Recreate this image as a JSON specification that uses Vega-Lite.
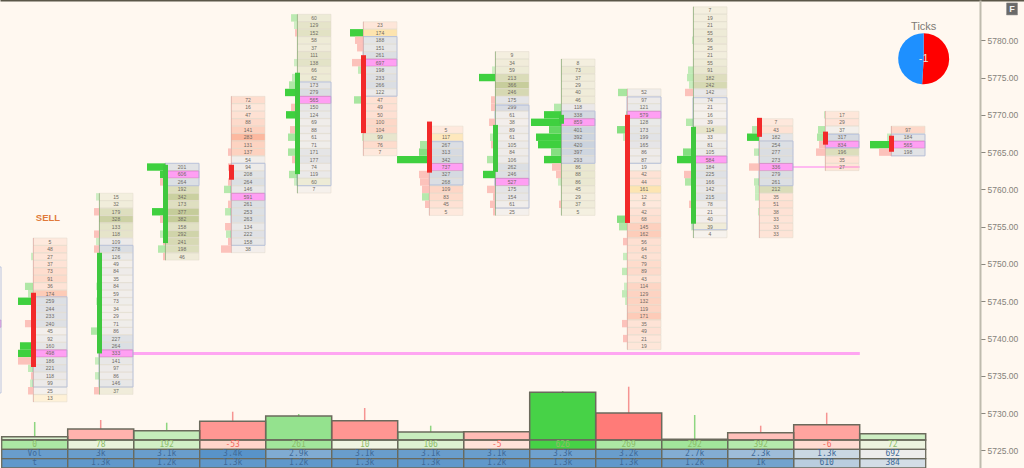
{"$schema":"https://vega.github.io/schema/vega-lite/v6.json","width":1024,"height":468,"autosize":"none","padding":0,"background":"#fff8f0","config":{"view":{"stroke":null}},
"datasets":{
"cells":[{"b":-1,"p":5742,"v":500,"z":"p"},
{"b":0,"p":5753,"v":5,"z":"r"},{"b":0,"p":5752,"v":48,"z":"r"},{"b":0,"p":5751,"v":27,"z":"r"},{"b":0,"p":5750,"v":37,"z":"r"},{"b":0,"p":5749,"v":73,"z":"r"},{"b":0,"p":5748,"v":91,"z":"r"},{"b":0,"p":5747,"v":36,"z":"r"},{"b":0,"p":5746,"v":174,"z":"r"},{"b":0,"p":5745,"v":259,"z":"n"},{"b":0,"p":5744,"v":244,"z":"n"},{"b":0,"p":5743,"v":233,"z":"n"},{"b":0,"p":5742,"v":240,"z":"n"},{"b":0,"p":5741,"v":45,"z":"n"},{"b":0,"p":5740,"v":92,"z":"n"},{"b":0,"p":5739,"v":160,"z":"n"},{"b":0,"p":5738,"v":498,"z":"p"},{"b":0,"p":5737,"v":186,"z":"n"},{"b":0,"p":5736,"v":221,"z":"n"},{"b":0,"p":5735,"v":118,"z":"n"},{"b":0,"p":5734,"v":99,"z":"n"},{"b":0,"p":5733,"v":25,"z":"n"},{"b":0,"p":5732,"v":13,"z":"y"},
{"b":1,"p":5759,"v":15,"z":"g"},{"b":1,"p":5758,"v":32,"z":"g"},{"b":1,"p":5757,"v":179,"z":"g"},{"b":1,"p":5756,"v":328,"z":"g"},{"b":1,"p":5755,"v":133,"z":"g"},{"b":1,"p":5754,"v":118,"z":"g"},{"b":1,"p":5753,"v":109,"z":"n"},{"b":1,"p":5752,"v":278,"z":"n"},{"b":1,"p":5751,"v":126,"z":"n"},{"b":1,"p":5750,"v":49,"z":"n"},{"b":1,"p":5749,"v":84,"z":"n"},{"b":1,"p":5748,"v":35,"z":"n"},{"b":1,"p":5747,"v":84,"z":"n"},{"b":1,"p":5746,"v":59,"z":"n"},{"b":1,"p":5745,"v":73,"z":"n"},{"b":1,"p":5744,"v":34,"z":"n"},{"b":1,"p":5743,"v":29,"z":"n"},{"b":1,"p":5742,"v":71,"z":"n"},{"b":1,"p":5741,"v":86,"z":"n"},{"b":1,"p":5740,"v":227,"z":"n"},{"b":1,"p":5739,"v":264,"z":"n"},{"b":1,"p":5738,"v":333,"z":"p"},{"b":1,"p":5737,"v":141,"z":"n"},{"b":1,"p":5736,"v":97,"z":"n"},{"b":1,"p":5735,"v":86,"z":"n"},{"b":1,"p":5734,"v":146,"z":"n"},{"b":1,"p":5733,"v":37,"z":"g"},
{"b":2,"p":5763,"v":201,"z":"n"},{"b":2,"p":5762,"v":606,"z":"p"},{"b":2,"p":5761,"v":264,"z":"n"},{"b":2,"p":5760,"v":192,"z":"g"},{"b":2,"p":5759,"v":342,"z":"g"},{"b":2,"p":5758,"v":173,"z":"g"},{"b":2,"p":5757,"v":377,"z":"g"},{"b":2,"p":5756,"v":382,"z":"g"},{"b":2,"p":5755,"v":158,"z":"g"},{"b":2,"p":5754,"v":292,"z":"g"},{"b":2,"p":5753,"v":241,"z":"g"},{"b":2,"p":5752,"v":198,"z":"g"},{"b":2,"p":5751,"v":46,"z":"g"},
{"b":3,"p":5772,"v":72,"z":"r"},{"b":3,"p":5771,"v":16,"z":"r"},{"b":3,"p":5770,"v":47,"z":"r"},{"b":3,"p":5769,"v":88,"z":"r"},{"b":3,"p":5768,"v":141,"z":"r"},{"b":3,"p":5767,"v":283,"z":"r"},{"b":3,"p":5766,"v":131,"z":"r"},{"b":3,"p":5765,"v":137,"z":"r"},{"b":3,"p":5764,"v":54,"z":"n"},{"b":3,"p":5763,"v":94,"z":"n"},{"b":3,"p":5762,"v":208,"z":"n"},{"b":3,"p":5761,"v":264,"z":"n"},{"b":3,"p":5760,"v":146,"z":"n"},{"b":3,"p":5759,"v":591,"z":"p"},{"b":3,"p":5758,"v":261,"z":"n"},{"b":3,"p":5757,"v":253,"z":"n"},{"b":3,"p":5756,"v":263,"z":"n"},{"b":3,"p":5755,"v":134,"z":"n"},{"b":3,"p":5754,"v":222,"z":"n"},{"b":3,"p":5753,"v":158,"z":"n"},{"b":3,"p":5752,"v":38,"z":"n"},
{"b":4,"p":5783,"v":60,"z":"g"},{"b":4,"p":5782,"v":129,"z":"g"},{"b":4,"p":5781,"v":152,"z":"g"},{"b":4,"p":5780,"v":58,"z":"g"},{"b":4,"p":5779,"v":37,"z":"g"},{"b":4,"p":5778,"v":111,"z":"g"},{"b":4,"p":5777,"v":138,"z":"g"},{"b":4,"p":5776,"v":66,"z":"g"},{"b":4,"p":5775,"v":62,"z":"g"},{"b":4,"p":5774,"v":173,"z":"n"},{"b":4,"p":5773,"v":279,"z":"n"},{"b":4,"p":5772,"v":565,"z":"p"},{"b":4,"p":5771,"v":150,"z":"n"},{"b":4,"p":5770,"v":124,"z":"n"},{"b":4,"p":5769,"v":69,"z":"n"},{"b":4,"p":5768,"v":88,"z":"n"},{"b":4,"p":5767,"v":61,"z":"n"},{"b":4,"p":5766,"v":71,"z":"n"},{"b":4,"p":5765,"v":171,"z":"n"},{"b":4,"p":5764,"v":177,"z":"n"},{"b":4,"p":5763,"v":74,"z":"n"},{"b":4,"p":5762,"v":119,"z":"n"},{"b":4,"p":5761,"v":60,"z":"g"},{"b":4,"p":5760,"v":7,"z":"n"},
{"b":5,"p":5782,"v":23,"z":"r"},{"b":5,"p":5781,"v":174,"z":"y"},{"b":5,"p":5780,"v":188,"z":"n"},{"b":5,"p":5779,"v":151,"z":"n"},{"b":5,"p":5778,"v":261,"z":"n"},{"b":5,"p":5777,"v":697,"z":"p"},{"b":5,"p":5776,"v":198,"z":"n"},{"b":5,"p":5775,"v":233,"z":"n"},{"b":5,"p":5774,"v":266,"z":"n"},{"b":5,"p":5773,"v":122,"z":"n"},{"b":5,"p":5772,"v":47,"z":"r"},{"b":5,"p":5771,"v":49,"z":"r"},{"b":5,"p":5770,"v":50,"z":"r"},{"b":5,"p":5769,"v":100,"z":"r"},{"b":5,"p":5768,"v":104,"z":"r"},{"b":5,"p":5767,"v":99,"z":"g"},{"b":5,"p":5766,"v":76,"z":"r"},{"b":5,"p":5765,"v":7,"z":"r"},
{"b":6,"p":5768,"v":5,"z":"r"},{"b":6,"p":5767,"v":117,"z":"y"},{"b":6,"p":5766,"v":267,"z":"n"},{"b":6,"p":5765,"v":313,"z":"n"},{"b":6,"p":5764,"v":342,"z":"n"},{"b":6,"p":5763,"v":737,"z":"p"},{"b":6,"p":5762,"v":327,"z":"n"},{"b":6,"p":5761,"v":268,"z":"n"},{"b":6,"p":5760,"v":109,"z":"r"},{"b":6,"p":5759,"v":83,"z":"r"},{"b":6,"p":5758,"v":45,"z":"r"},{"b":6,"p":5757,"v":5,"z":"r"},
{"b":7,"p":5778,"v":9,"z":"g"},{"b":7,"p":5777,"v":34,"z":"g"},{"b":7,"p":5776,"v":59,"z":"g"},{"b":7,"p":5775,"v":213,"z":"g"},{"b":7,"p":5774,"v":366,"z":"g"},{"b":7,"p":5773,"v":246,"z":"g"},{"b":7,"p":5772,"v":175,"z":"n"},{"b":7,"p":5771,"v":299,"z":"n"},{"b":7,"p":5770,"v":61,"z":"n"},{"b":7,"p":5769,"v":38,"z":"n"},{"b":7,"p":5768,"v":89,"z":"n"},{"b":7,"p":5767,"v":61,"z":"n"},{"b":7,"p":5766,"v":105,"z":"n"},{"b":7,"p":5765,"v":84,"z":"n"},{"b":7,"p":5764,"v":106,"z":"n"},{"b":7,"p":5763,"v":262,"z":"n"},{"b":7,"p":5762,"v":246,"z":"n"},{"b":7,"p":5761,"v":527,"z":"p"},{"b":7,"p":5760,"v":175,"z":"n"},{"b":7,"p":5759,"v":154,"z":"n"},{"b":7,"p":5758,"v":61,"z":"n"},{"b":7,"p":5757,"v":25,"z":"n"},
{"b":8,"p":5777,"v":8,"z":"g"},{"b":8,"p":5776,"v":73,"z":"g"},{"b":8,"p":5775,"v":37,"z":"g"},{"b":8,"p":5774,"v":29,"z":"g"},{"b":8,"p":5773,"v":40,"z":"g"},{"b":8,"p":5772,"v":46,"z":"g"},{"b":8,"p":5771,"v":118,"z":"n"},{"b":8,"p":5770,"v":338,"z":"n"},{"b":8,"p":5769,"v":859,"z":"p"},{"b":8,"p":5768,"v":401,"z":"n"},{"b":8,"p":5767,"v":392,"z":"n"},{"b":8,"p":5766,"v":420,"z":"n"},{"b":8,"p":5765,"v":397,"z":"n"},{"b":8,"p":5764,"v":293,"z":"n"},{"b":8,"p":5763,"v":86,"z":"g"},{"b":8,"p":5762,"v":88,"z":"g"},{"b":8,"p":5761,"v":86,"z":"g"},{"b":8,"p":5760,"v":45,"z":"g"},{"b":8,"p":5759,"v":29,"z":"g"},{"b":8,"p":5758,"v":37,"z":"g"},{"b":8,"p":5757,"v":5,"z":"g"},
{"b":9,"p":5773,"v":52,"z":"n"},{"b":9,"p":5772,"v":97,"z":"n"},{"b":9,"p":5771,"v":121,"z":"n"},{"b":9,"p":5770,"v":579,"z":"p"},{"b":9,"p":5769,"v":128,"z":"n"},{"b":9,"p":5768,"v":173,"z":"n"},{"b":9,"p":5767,"v":199,"z":"n"},{"b":9,"p":5766,"v":165,"z":"n"},{"b":9,"p":5765,"v":86,"z":"n"},{"b":9,"p":5764,"v":87,"z":"n"},{"b":9,"p":5763,"v":19,"z":"n"},{"b":9,"p":5762,"v":42,"z":"r"},{"b":9,"p":5761,"v":44,"z":"r"},{"b":9,"p":5760,"v":161,"z":"y"},{"b":9,"p":5759,"v":12,"z":"r"},{"b":9,"p":5758,"v":8,"z":"r"},{"b":9,"p":5757,"v":42,"z":"r"},{"b":9,"p":5756,"v":68,"z":"r"},{"b":9,"p":5755,"v":145,"z":"r"},{"b":9,"p":5754,"v":162,"z":"r"},{"b":9,"p":5753,"v":56,"z":"r"},{"b":9,"p":5752,"v":64,"z":"r"},{"b":9,"p":5751,"v":43,"z":"r"},{"b":9,"p":5750,"v":79,"z":"r"},{"b":9,"p":5749,"v":89,"z":"r"},{"b":9,"p":5748,"v":43,"z":"r"},{"b":9,"p":5747,"v":114,"z":"r"},{"b":9,"p":5746,"v":129,"z":"r"},{"b":9,"p":5745,"v":132,"z":"r"},{"b":9,"p":5744,"v":119,"z":"r"},{"b":9,"p":5743,"v":171,"z":"r"},{"b":9,"p":5742,"v":35,"z":"r"},{"b":9,"p":5741,"v":49,"z":"r"},{"b":9,"p":5740,"v":21,"z":"r"},{"b":9,"p":5739,"v":19,"z":"r"},
{"b":10,"p":5784,"v":7,"z":"g"},{"b":10,"p":5783,"v":19,"z":"g"},{"b":10,"p":5782,"v":21,"z":"g"},{"b":10,"p":5781,"v":55,"z":"g"},{"b":10,"p":5780,"v":56,"z":"g"},{"b":10,"p":5779,"v":25,"z":"g"},{"b":10,"p":5778,"v":21,"z":"g"},{"b":10,"p":5777,"v":55,"z":"g"},{"b":10,"p":5776,"v":91,"z":"g"},{"b":10,"p":5775,"v":182,"z":"g"},{"b":10,"p":5774,"v":242,"z":"g"},{"b":10,"p":5773,"v":142,"z":"n"},{"b":10,"p":5772,"v":74,"z":"n"},{"b":10,"p":5771,"v":21,"z":"n"},{"b":10,"p":5770,"v":16,"z":"n"},{"b":10,"p":5769,"v":39,"z":"n"},{"b":10,"p":5768,"v":114,"z":"g"},{"b":10,"p":5767,"v":33,"z":"n"},{"b":10,"p":5766,"v":81,"z":"n"},{"b":10,"p":5765,"v":105,"z":"n"},{"b":10,"p":5764,"v":584,"z":"p"},{"b":10,"p":5763,"v":184,"z":"n"},{"b":10,"p":5762,"v":225,"z":"n"},{"b":10,"p":5761,"v":166,"z":"n"},{"b":10,"p":5760,"v":142,"z":"n"},{"b":10,"p":5759,"v":215,"z":"n"},{"b":10,"p":5758,"v":78,"z":"n"},{"b":10,"p":5757,"v":21,"z":"n"},{"b":10,"p":5756,"v":40,"z":"n"},{"b":10,"p":5755,"v":39,"z":"g"},{"b":10,"p":5754,"v":4,"z":"n"},
{"b":11,"p":5769,"v":7,"z":"r"},{"b":11,"p":5768,"v":43,"z":"r"},{"b":11,"p":5767,"v":182,"z":"n"},{"b":11,"p":5766,"v":254,"z":"n"},{"b":11,"p":5765,"v":277,"z":"n"},{"b":11,"p":5764,"v":273,"z":"n"},{"b":11,"p":5763,"v":336,"z":"p"},{"b":11,"p":5762,"v":279,"z":"n"},{"b":11,"p":5761,"v":261,"z":"n"},{"b":11,"p":5760,"v":212,"z":"g"},{"b":11,"p":5759,"v":35,"z":"r"},{"b":11,"p":5758,"v":51,"z":"r"},{"b":11,"p":5757,"v":38,"z":"r"},{"b":11,"p":5756,"v":33,"z":"r"},{"b":11,"p":5755,"v":33,"z":"r"},{"b":11,"p":5754,"v":33,"z":"r"},
{"b":12,"p":5770,"v":17,"z":"r"},{"b":12,"p":5769,"v":29,"z":"r"},{"b":12,"p":5768,"v":37,"z":"n"},{"b":12,"p":5767,"v":317,"z":"n"},{"b":12,"p":5766,"v":834,"z":"p"},{"b":12,"p":5765,"v":196,"z":"g"},{"b":12,"p":5764,"v":35,"z":"r"},{"b":12,"p":5763,"v":27,"z":"r"},
{"b":13,"p":5768,"v":97,"z":"r"},{"b":13,"p":5767,"v":184,"z":"n"},{"b":13,"p":5766,"v":565,"z":"p"},{"b":13,"p":5765,"v":198,"z":"n"}],
"areas":[{"b":-1,"hi":5749.6,"lo":5732.7},{"b":0,"hi":5745.6,"lo":5733.5},{"b":1,"hi":5752.5,"lo":5733.5},{"b":2,"hi":5763.5,"lo":5760.5},{"b":3,"hi":5763.5,"lo":5752.5},{"b":4,"hi":5774.4,"lo":5760.5},{"b":5,"hi":5780.5,"lo":5772.5},{"b":6,"hi":5766.4,"lo":5760.6},{"b":7,"hi":5771.3,"lo":5757.5},{"b":8,"hi":5770.5,"lo":5763.5},{"b":9,"hi":5772.4,"lo":5763.5},{"b":10,"hi":5772.3,"lo":5754.6},{"b":11,"hi":5766.5,"lo":5760.5},{"b":12,"hi":5767.4,"lo":5765.6},{"b":13,"hi":5767.4,"lo":5764.5}],
"side":[{"b":0,"p":5751,"t":-0.288,"s":"buy","n":2},{"b":0,"p":5747,"t":-0.379,"s":"buy","n":8},{"b":0,"p":5746,"t":-0.333,"s":"buy","n":5},{"b":0,"p":5745,"t":-0.485,"s":"buy","n":15},{"b":0,"p":5742,"t":-0.379,"s":"sell","n":8},{"b":0,"p":5739,"t":-0.455,"s":"buy","n":13},{"b":0,"p":5738,"t":-0.485,"s":"buy","n":15},{"b":0,"p":5737,"t":-0.485,"s":"sell","n":15},{"b":0,"p":5736,"t":-0.333,"s":"buy","n":5},{"b":0,"p":5735,"t":-0.288,"s":"sell","n":2},{"b":0,"p":5734,"t":-0.303,"s":"buy","n":3},{"b":0,"p":5733,"t":-0.333,"s":"sell","n":5},
{"b":1,"p":5759,"t":0.697,"s":"buy","n":3},{"b":1,"p":5757,"t":0.667,"s":"sell","n":5},{"b":1,"p":5754,"t":0.667,"s":"sell","n":5},{"b":1,"p":5753,"t":0.697,"s":"buy","n":3},{"b":1,"p":5752,"t":0.667,"s":"sell","n":5},{"b":1,"p":5747,"t":0.697,"s":"buy","n":3},{"b":1,"p":5745,"t":0.697,"s":"buy","n":3},{"b":1,"p":5741,"t":0.621,"s":"buy","n":8},{"b":1,"p":5737,"t":0.682,"s":"buy","n":4},{"b":1,"p":5735,"t":0.682,"s":"buy","n":4},{"b":1,"p":5733,"t":0.667,"s":"sell","n":5},
{"b":2,"p":5763,"t":1.47,"s":"buy","n":18},{"b":2,"p":5762,"t":1.667,"s":"buy","n":12},{"b":2,"p":5761,"t":1.667,"s":"sell","n":5},{"b":2,"p":5757,"t":1.545,"s":"buy","n":13},{"b":2,"p":5756,"t":1.667,"s":"sell","n":5},{"b":2,"p":5754,"t":1.667,"s":"buy","n":5},{"b":2,"p":5753,"t":1.712,"s":"sell","n":2},{"b":2,"p":5752,"t":1.636,"s":"buy","n":7},{"b":2,"p":5751,"t":1.712,"s":"sell","n":2},
{"b":3,"p":5765,"t":2.697,"s":"sell","n":3},{"b":3,"p":5763,"t":2.697,"s":"sell","n":3},{"b":3,"p":5761,"t":2.697,"s":"sell","n":3},{"b":3,"p":5760,"t":2.636,"s":"buy","n":7},{"b":3,"p":5758,"t":2.697,"s":"sell","n":3},{"b":3,"p":5757,"t":2.652,"s":"buy","n":6},{"b":3,"p":5755,"t":2.652,"s":"sell","n":6},{"b":3,"p":5754,"t":2.667,"s":"buy","n":5},{"b":3,"p":5753,"t":2.697,"s":"sell","n":3},{"b":3,"p":5752,"t":2.591,"s":"sell","n":10},
{"b":4,"p":5783,"t":3.652,"s":"buy","n":6},{"b":4,"p":5782,"t":3.697,"s":"buy","n":3},{"b":4,"p":5781,"t":3.712,"s":"sell","n":2},{"b":4,"p":5777,"t":3.697,"s":"buy","n":3},{"b":4,"p":5775,"t":3.667,"s":"buy","n":5},{"b":4,"p":5774,"t":3.621,"s":"buy","n":8},{"b":4,"p":5773,"t":3.561,"s":"buy","n":12},{"b":4,"p":5771,"t":3.652,"s":"sell","n":6},{"b":4,"p":5770,"t":3.576,"s":"buy","n":12},{"b":4,"p":5768,"t":3.636,"s":"sell","n":7},{"b":4,"p":5767,"t":3.606,"s":"buy","n":9},{"b":4,"p":5765,"t":3.606,"s":"buy","n":9},{"b":4,"p":5764,"t":3.667,"s":"sell","n":5},{"b":4,"p":5762,"t":3.621,"s":"buy","n":8},{"b":4,"p":5761,"t":3.697,"s":"buy","n":3},
{"b":5,"p":5781,"t":4.545,"s":"buy","n":13},{"b":5,"p":5780,"t":4.621,"s":"sell","n":8},{"b":5,"p":5779,"t":4.652,"s":"sell","n":6},{"b":5,"p":5777,"t":4.576,"s":"sell","n":11},{"b":5,"p":5776,"t":4.667,"s":"buy","n":5},{"b":5,"p":5772,"t":4.606,"s":"buy","n":9},{"b":5,"p":5767,"t":4.727,"s":"buy","n":1},
{"b":6,"p":5766,"t":5.606,"s":"buy","n":9},{"b":6,"p":5765,"t":5.591,"s":"buy","n":10},{"b":6,"p":5764,"t":5.258,"s":"buy","n":32},{"b":6,"p":5762,"t":5.591,"s":"sell","n":10},{"b":6,"p":5761,"t":5.606,"s":"sell","n":9},{"b":6,"p":5760,"t":5.636,"s":"sell","n":7},{"b":6,"p":5759,"t":5.636,"s":"buy","n":7},{"b":6,"p":5758,"t":5.682,"s":"sell","n":4},
{"b":7,"p":5776,"t":6.697,"s":"buy","n":3},{"b":7,"p":5775,"t":6.5,"s":"buy","n":16},{"b":7,"p":5772,"t":6.682,"s":"sell","n":4},{"b":7,"p":5771,"t":6.682,"s":"sell","n":4},{"b":7,"p":5769,"t":6.652,"s":"sell","n":6},{"b":7,"p":5767,"t":6.667,"s":"buy","n":5},{"b":7,"p":5766,"t":6.682,"s":"sell","n":4},{"b":7,"p":5764,"t":6.621,"s":"buy","n":8},{"b":7,"p":5762,"t":6.561,"s":"buy","n":12},{"b":7,"p":5760,"t":6.621,"s":"sell","n":8},{"b":7,"p":5759,"t":6.712,"s":"sell","n":2},{"b":7,"p":5758,"t":6.667,"s":"sell","n":5},{"b":7,"p":5757,"t":6.712,"s":"sell","n":2},
{"b":8,"p":5771,"t":7.636,"s":"buy","n":7},{"b":8,"p":5770,"t":7.485,"s":"buy","n":16},{"b":8,"p":5769,"t":7.288,"s":"buy","n":30},{"b":8,"p":5768,"t":7.561,"s":"buy","n":11},{"b":8,"p":5767,"t":7.364,"s":"buy","n":25},{"b":8,"p":5766,"t":7.394,"s":"buy","n":23},{"b":8,"p":5765,"t":7.591,"s":"buy","n":10},{"b":8,"p":5764,"t":7.485,"s":"buy","n":17},{"b":8,"p":5763,"t":7.606,"s":"sell","n":9},{"b":8,"p":5762,"t":7.667,"s":"sell","n":5},{"b":8,"p":5761,"t":7.697,"s":"buy","n":3},{"b":8,"p":5758,"t":7.712,"s":"sell","n":2},
{"b":9,"p":5773,"t":8.606,"s":"buy","n":9},{"b":9,"p":5770,"t":8.727,"s":"buy","n":1},{"b":9,"p":5768,"t":8.591,"s":"buy","n":10},{"b":9,"p":5767,"t":8.682,"s":"buy","n":4},{"b":9,"p":5756,"t":8.591,"s":"buy","n":10},{"b":9,"p":5755,"t":8.621,"s":"buy","n":8},{"b":9,"p":5753,"t":8.682,"s":"sell","n":4},{"b":9,"p":5751,"t":8.682,"s":"buy","n":4},{"b":9,"p":5749,"t":8.667,"s":"buy","n":5},{"b":9,"p":5747,"t":8.697,"s":"buy","n":3},{"b":9,"p":5746,"t":8.667,"s":"buy","n":5},{"b":9,"p":5745,"t":8.712,"s":"buy","n":2},{"b":9,"p":5742,"t":8.667,"s":"sell","n":5},{"b":9,"p":5740,"t":8.682,"s":"sell","n":4},
{"b":10,"p":5780,"t":9.727,"s":"buy","n":1},{"b":10,"p":5776,"t":9.667,"s":"buy","n":5},{"b":10,"p":5775,"t":9.652,"s":"buy","n":6},{"b":10,"p":5774,"t":9.682,"s":"buy","n":4},{"b":10,"p":5773,"t":9.621,"s":"sell","n":8},{"b":10,"p":5769,"t":9.636,"s":"buy","n":7},{"b":10,"p":5765,"t":9.591,"s":"buy","n":10},{"b":10,"p":5764,"t":9.5,"s":"buy","n":16},{"b":10,"p":5762,"t":9.606,"s":"sell","n":9},{"b":10,"p":5761,"t":9.621,"s":"buy","n":8},{"b":10,"p":5760,"t":9.712,"s":"buy","n":2},{"b":10,"p":5758,"t":9.682,"s":"sell","n":4},{"b":10,"p":5755,"t":9.712,"s":"buy","n":2},
{"b":11,"p":5768,"t":10.636,"s":"buy","n":7},{"b":11,"p":5767,"t":10.561,"s":"buy","n":12},{"b":11,"p":5765,"t":10.667,"s":"buy","n":5},{"b":11,"p":5763,"t":10.591,"s":"sell","n":10},{"b":11,"p":5761,"t":10.667,"s":"buy","n":5},{"b":11,"p":5760,"t":10.682,"s":"buy","n":4},{"b":11,"p":5759,"t":10.682,"s":"buy","n":4},{"b":11,"p":5757,"t":10.727,"s":"buy","n":1},
{"b":12,"p":5770,"t":11.727,"s":"buy","n":1},{"b":12,"p":5768,"t":11.636,"s":"buy","n":7},{"b":12,"p":5767,"t":11.621,"s":"buy","n":8},{"b":12,"p":5766,"t":11.652,"s":"sell","n":6},{"b":12,"p":5765,"t":11.606,"s":"sell","n":9},
{"b":13,"p":5767,"t":12.682,"s":"buy","n":4},{"b":13,"p":5766,"t":12.424,"s":"buy","n":21},{"b":13,"p":5765,"t":12.561,"s":"sell","n":12}],
"candles":[{"b":0,"o":5746.15,"c":5736.2,"hi":5753.5,"lo":5731.5,"dir":"down"},{"b":1,"o":5738,"c":5751.5,"hi":5759.5,"lo":5732.5,"dir":"up"},{"b":2,"o":5752.8,"c":5763.3,"hi":5763.5,"lo":5750.5,"dir":"up"},{"b":3,"o":5763.3,"c":5761.3,"hi":5772.5,"lo":5751.5,"dir":"down"},{"b":4,"o":5762.05,"c":5775.65,"hi":5783.5,"lo":5759.5,"dir":"up"},{"b":5,"o":5778,"c":5767.55,"hi":5782.5,"lo":5764.5,"dir":"down"},{"b":6,"o":5769.1,"c":5762.25,"hi":5768.5,"lo":5756.5,"dir":"down"},{"b":7,"o":5762.35,"c":5768.65,"hi":5778.5,"lo":5756.5,"dir":"up"},{"b":8,"o":5768.8,"c":5770,"hi":5777.5,"lo":5756.5,"dir":"up"},{"b":9,"o":5770,"c":5755.5,"hi":5773.5,"lo":5738.5,"dir":"down"},{"b":10,"o":5755.4,"c":5768.4,"hi":5784.5,"lo":5753.5,"dir":"up"},{"b":11,"o":5769.6,"c":5767.05,"hi":5769.5,"lo":5753.5,"dir":"down"},{"b":12,"o":5767.75,"c":5766,"hi":5770.5,"lo":5762.5,"dir":"down"},{"b":13,"o":5767.2,"c":5765.05,"hi":5768.5,"lo":5764.5,"dir":"down"}],
"bottom":[{"b":0,"h":3.3,"w":18,"dir":"up"},{"b":1,"h":11,"w":20,"dir":"down"},{"b":2,"h":9.3,"w":17.3,"dir":"up"},{"b":3,"h":18.7,"w":28.3,"dir":"down"},{"b":4,"h":24,"w":26,"dir":"up"},{"b":5,"h":19.3,"w":32,"dir":"down"},{"b":6,"h":8,"w":14.3,"dir":"up"},{"b":7,"h":8.3,"w":8.3,"dir":"down"},{"b":8,"h":47.7,"w":49,"dir":"up"},{"b":9,"h":27,"w":53.3,"dir":"down"},{"b":10,"h":0.7,"w":25,"dir":"up"},{"b":11,"h":7.3,"w":14.3,"dir":"down"},{"b":12,"h":15.3,"w":27.3,"dir":"down"},{"b":13,"h":6.3,"w":6.3,"dir":"up"}],
"table":[{"b":0,"row":"Delta","label":"0","tone":"buy","i":45},{"b":1,"row":"Delta","label":"78","tone":"buy","i":12},{"b":2,"row":"Delta","label":"192","tone":"buy","i":25},{"b":3,"row":"Delta","label":"-53","tone":"sell","i":25},{"b":4,"row":"Delta","label":"261","tone":"buy","i":50},{"b":5,"row":"Delta","label":"10","tone":"buy","i":8},{"b":6,"row":"Delta","label":"106","tone":"buy","i":18},{"b":7,"row":"Delta","label":"-5","tone":"sell","i":15},{"b":8,"row":"Delta","label":"626","tone":"buy","i":100},{"b":9,"row":"Delta","label":"269","tone":"buy","i":45},{"b":10,"row":"Delta","label":"292","tone":"buy","i":50},{"b":11,"row":"Delta","label":"392","tone":"buy","i":40},{"b":12,"row":"Delta","label":"-6","tone":"sell","i":20},{"b":13,"row":"Delta","label":"72","tone":"buy","i":10},
{"b":0,"row":"Vol","label":"Vol","tone":"vol","i":85},{"b":1,"row":"Vol","label":"3k","tone":"vol","i":85},{"b":2,"row":"Vol","label":"3.1k","tone":"vol","i":85},{"b":3,"row":"Vol","label":"3.4k","tone":"vol","i":95},{"b":4,"row":"Vol","label":"2.9k","tone":"vol","i":72},{"b":5,"row":"Vol","label":"3.1k","tone":"vol","i":85},{"b":6,"row":"Vol","label":"3.1k","tone":"vol","i":85},{"b":7,"row":"Vol","label":"3.1k","tone":"vol","i":85},{"b":8,"row":"Vol","label":"3.3k","tone":"vol","i":82},{"b":9,"row":"Vol","label":"3.2k","tone":"vol","i":85},{"b":10,"row":"Vol","label":"2.7k","tone":"vol","i":70},{"b":11,"row":"Vol","label":"2.3k","tone":"vol","i":55},{"b":12,"row":"Vol","label":"1.3k","tone":"vol","i":30},{"b":13,"row":"Vol","label":"692","tone":"vol","i":10},
{"b":0,"row":"t","label":"t","tone":"vol","i":90},{"b":1,"row":"t","label":"1.3k","tone":"vol","i":90},{"b":2,"row":"t","label":"1.2k","tone":"vol","i":90},{"b":3,"row":"t","label":"1.3k","tone":"vol","i":90},{"b":4,"row":"t","label":"1.2k","tone":"vol","i":90},{"b":5,"row":"t","label":"1.3k","tone":"vol","i":90},{"b":6,"row":"t","label":"1.3k","tone":"vol","i":90},{"b":7,"row":"t","label":"1.2k","tone":"vol","i":90},{"b":8,"row":"t","label":"1.3k","tone":"vol","i":90},{"b":9,"row":"t","label":"1.3k","tone":"vol","i":90},{"b":10,"row":"t","label":"1.2k","tone":"vol","i":85},{"b":11,"row":"t","label":"1k","tone":"vol","i":80},{"b":12,"row":"t","label":"610","tone":"vol","i":40},{"b":13,"row":"t","label":"384","tone":"vol","i":25}]
},
"encoding":{"x":{"field":"b","type":"quantitative","scale":{"domain":[-0.7576,14.7576],"nice":false,"zero":false},"axis":{"orient":"top","labels":false,"ticks":false,"grid":false,"title":null,"domainColor":"#5a5648","domainWidth":2}}},
"layer":[
{"encoding":{"y":{"field":"p","type":"quantitative","scale":{"domain":[5722.64,5785.4],"nice":false,"zero":false},"axis":{"orient":"right","offset":-44,"values":[5725,5730,5735,5740,5745,5750,5755,5760,5765,5770,5775,5780],"format":".2f","grid":false,"title":null,"labelFont":"Liberation Sans","labelFontSize":8.5,"labelColor":"#85827a","tickColor":"#8a877e","tickSize":5,"domainColor":"#bfbbae","domainWidth":2}}},
"resolve":{"scale":{"fill":"independent","fillOpacity":"independent"}},
"layer":[
{"data":{"values":[{"b":1,"e":12.27,"p":5738,"line":"main"}]},"mark":{"type":"rule","color":"#ffa6f2","strokeWidth":3},"encoding":{"x2":{"field":"e"}}},
{"data":{"values":[{"b":11,"e":12.27,"p":5763,"line":"minor"}]},"mark":{"type":"rule","color":"#ffa6f2","strokeWidth":1.5},"encoding":{"x2":{"field":"e"}}},
{"data":{"name":"cells"},"mark":{"type":"rect","width":34,"height":7.2,"strokeWidth":0.5},"encoding":{"fill":{"field":"z","type":"nominal","legend":null,"scale":{"domain":["r","g","n","p","y"],"range":["#fa9a7a","#bcc58c","#c8d0dc","#ff9ff3","#fbcf68"]}},"fillOpacity":{"condition":{"test":"datum.z==='p'","value":1},"field":"v","type":"quantitative","legend":null,"scale":{"domain":[0,450],"range":[0.15,1],"clamp":true}},"stroke":{"condition":{"test":"datum.z==='p'","value":"#b45cab"},"value":"#e0dacd"}}},
{"data":{"name":"cells"},"transform":[{"filter":"datum.b>=0"}],"mark":{"type":"text","font":"Liberation Sans","fontSize":5,"color":"#6e6a62","baseline":"middle"},"encoding":{"text":{"field":"v","type":"quantitative"}}},
{"data":{"name":"areas"},"mark":{"type":"rect","width":34,"fillOpacity":0,"stroke":"#b4c0dc","strokeWidth":0.9},"encoding":{"y":{"field":"hi","type":"quantitative"},"y2":{"field":"lo"}}},
{"data":{"name":"side"},"mark":{"type":"rect","height":7.4,"xOffset":-17},"encoding":{"x2":{"field":"t"},"fill":{"field":"s","type":"nominal","legend":null,"scale":{"domain":["buy","sell"],"range":["#3fd03f","#fbb9b1"]}},"fillOpacity":{"condition":{"test":"datum.s==='sell'","value":0.85},"field":"n","type":"quantitative","legend":null,"scale":{"domain":[3,9,12],"range":[0.25,0.45,1],"clamp":true}}}},
{"data":{"name":"candles"},"mark":{"type":"rect","width":1,"xOffset":-16.5,"opacity":0.55},"encoding":{"y":{"field":"hi","type":"quantitative"},"y2":{"field":"lo"},"fill":{"field":"dir","type":"nominal","legend":null,"scale":{"domain":["up","down"],"range":["#6f9a5c","#d8a09a"]}}}},
{"data":{"name":"candles"},"mark":{"type":"rect","width":5,"xOffset":-16.5},"encoding":{"y":{"field":"o","type":"quantitative"},"y2":{"field":"c"},"fill":{"field":"dir","type":"nominal","legend":null,"scale":{"domain":["up","down"],"range":["#3fc83f","#f22a2a"]}}}},
{"data":{"values":[{"b":0,"p":5756.2,"label":"SELL"}]},"mark":{"type":"text","font":"Liberation Sans","fontWeight":"bold","fontSize":9.5,"color":"#e07a3a","dx":-2,"baseline":"middle"},"encoding":{"text":{"field":"label"}}},
{"data":{"values":[{"b":14.576,"p":5784.2,"label":"F"}]},"mark":{"type":"rect","width":11,"height":12,"fill":"#6a6a6a","stroke":"#8a8a8a","strokeWidth":0.5}},
{"data":{"values":[{"b":14.576,"p":5784.2,"label":"F"}]},"mark":{"type":"text","font":"Liberation Sans","fontWeight":"bold","fontSize":9,"color":"#f2f2f2","baseline":"middle"},"encoding":{"text":{"field":"label"}}},
{"data":{"values":[{"b":13.238,"p":5777.53,"side":"red","n":51},{"b":13.238,"p":5777.53,"side":"blue","n":49}]},"mark":{"type":"arc","outerRadius":25.5},"encoding":{"theta":{"field":"n","type":"quantitative","stack":true,"scale":{"domain":[0,100],"range":[0,6.2832]}},"order":{"field":"side","sort":"descending"},"fill":{"field":"side","type":"nominal","legend":null,"scale":{"domain":["red","blue"],"range":["#ff0000","#1e90ff"]}}}},
{"data":{"values":[{"b":13.238,"p":5777.53,"label":"-1"}]},"mark":{"type":"text","font":"Liberation Sans","fontSize":11,"color":"#e8e4df","baseline":"middle"},"encoding":{"text":{"field":"label"}}},
{"data":{"values":[{"b":13.238,"p":5781.82,"label":"Ticks"}]},"mark":{"type":"text","font":"Liberation Sans","fontSize":11,"color":"#7d7a75","baseline":"middle"},"encoding":{"text":{"field":"label"}}}
]},
{"data":{"name":"bottom"},
"encoding":{"y":{"field":"h","type":"quantitative","axis":null,"scale":{"domain":[-28,440],"nice":false,"zero":false}}},
"resolve":{"scale":{"fill":"independent"}},
"layer":[
{"mark":{"type":"rect","width":1.5,"xOffset":-15.3,"opacity":0.7},"encoding":{"y":{"field":"w","type":"quantitative"},"y2":{"field":"h"},"fill":{"field":"dir","type":"nominal","legend":null,"scale":{"domain":["up","down"],"range":["#5ec850","#f26a6a"]}}}},
{"mark":{"type":"rect","width":66,"xOffset":-15.3,"stroke":"#6b6a5c","strokeWidth":1.5},"encoding":{"y2":{"datum":0},"fill":{"field":"dir","type":"nominal","legend":null,"scale":{"domain":["up","down"],"range":["#46d246","#ff3030"]}},"fillOpacity":{"field":"h","type":"quantitative","legend":null,"scale":{"domain":[0,48],"range":[0.15,1],"zero":false}}}}
]},
{"data":{"name":"table"},
"encoding":{"y":{"field":"row","type":"ordinal","axis":null,"sort":null,"scale":{"domain":["Delta","Vol","t"],"range":[440,468],"paddingInner":0,"paddingOuter":0}}},
"layer":[
{"mark":{"type":"rect","width":66,"xOffset":-15.3,"stroke":"#6b6a5c","strokeWidth":1.3},"encoding":{"fill":{"field":"tone","type":"nominal","legend":null,"scale":{"domain":["buy","sell","vol"],"range":["#46d246","#ff6a58","#4f8dc6"]}},"fillOpacity":{"field":"i","type":"quantitative","legend":null,"scale":{"domain":[0,100],"range":[0,1]}}}},
{"mark":{"type":"text","font":"DejaVu Sans Mono","fontSize":8,"xOffset":-15.3,"baseline":"middle"},"encoding":{"text":{"field":"label"},"color":{"field":"tone","type":"nominal","legend":null,"scale":{"domain":["buy","sell","vol"],"range":["#8dbd68","#f2685e","#3f6a98"]}}}}
]}
],
"resolve":{"scale":{"y":"independent","fill":"independent","fillOpacity":"independent"}}
}
